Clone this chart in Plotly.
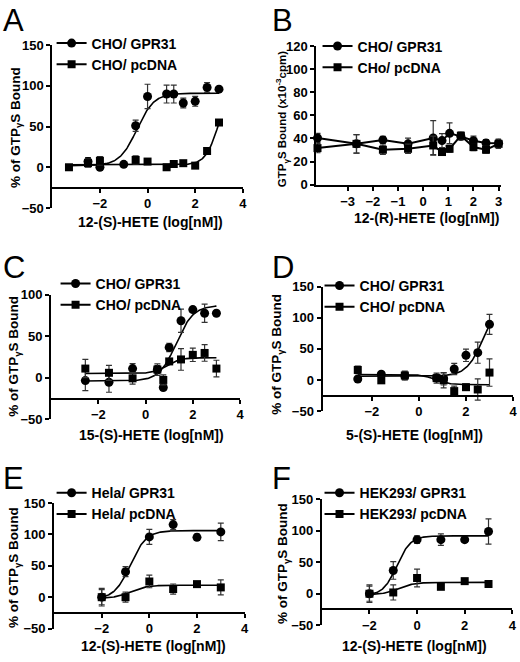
import numpy as np
import plotly.graph_objects as go

# ---------------- data (x = log[nM], y = % of GTPgammaS bound) ----------------
# Panel A: 12-(S)-HETE on CHO cells
a_gpr_x = [-2.5, -2.0, -1.0, -0.5, 0.0, 0.8, 1.1, 1.5, 2.0, 2.5, 3.0]
a_gpr_y = [7, 0, 3.6, 51, 87, 90, 90, 79, 81, 98, 96]
a_gpr_err = [5, 3, 2, 7, 15, 11, 11, 6, 6, 6, 2]
a_pc_x = [-3.3, -2.5, -2.0, -0.5, 0.0, 0.8, 1.1, 1.5, 2.0, 2.5, 3.0]
a_pc_y = [0, 5, 8, 9, 7, 0, 4, 5, 2, 20, 55]
a_pc_err = [2, 5, 5, 5, 2, 2, 4, 2, 2, 2, 2]
a_gpr_fit = [2, 91, -0.45, 1.2]      # bottom, top, logEC50, hill
a_pc_fit = [3, 100, 2.97, 1.6]
a_fit_span = [-3.3, 3.0]

# Panel B: 12-(R)-HETE on CHO cells (x10^-3 cpm)
b_x = [-4.2, -2.65, -1.6, -0.6, 0.4, 0.75, 1.05, 1.5, 2.0, 2.5, 3.0]
b_gpr_y = [40.4, 35.3, 38.7, 35.3, 40.4, 38.1, 44.4, 41.8, 38, 36, 35.9]
b_gpr_err = [4, 8, 3, 5, 15, 6, 9, 3, 4, 3, 3]
b_pc_y = [31.6, 35.3, 30.2, 31, 33.9, 28.2, 31, 42.4, 32.5, 30.2, 35.3]
b_pc_err = [4, 8, 4, 4, 8, 3, 3, 3, 3, 3, 4]

# Panel C: 15-(S)-HETE on CHO cells
c_x = [-2.55, -1.55, -0.55, 0.5, 0.75, 1.0, 1.5, 2.0, 2.5, 3.0]
c_gpr_y = [-3.5, -5.5, 11, 9.8, -11.8, 36.5, 68.6, 82, 77.6, 77.6]
c_gpr_err = [12, 12, 6, 5, 3, 5, 14, 3, 11, 2]
c_pc_y = [11, 5.9, -0.8, 9.8, -2.7, 19.6, 22, 27.5, 29.8, 11]
c_pc_err = [11, 9, 7, 7, 6, 3, 13, 8, 10, 10]
c_gpr_fit = [-4, 87, 1.3, 1.2]
c_pc_fit = [5, 24, 0.9, 1.5]
c_fit_span = [-2.55, 3.0]

# Panel D: 5-(S)-HETE on CHO cells
d_x = [-2.6, -1.6, -0.6, 0.75, 1.05, 1.5, 2.0, 2.5, 3.0]
d_gpr_y = [1.6, 9.4, 6.8, 3.1, 2, 17.8, 39.8, 44, 89.5]
d_gpr_err = [3, 3, 6, 8, 10, 9, 10, 17, 16]
d_pc_y = [16.2, -0.5, 7.3, 3.1, -0.5, -17.8, -11.5, -15.2, 12]
d_pc_err = [6, 5, 7, 5, 12, 8, 5, 17, 22]
d_gpr_fit = [6, 130, 2.75, 1.2]
d_pc_fit = [-7.5, 9, 0.7, -1.5]
d_fit_span = [-2.6, 3.0]

# Panel E: 12-(S)-HETE on Hela cells
e_x = [-2, -1, 0, 1, 2, 3]
e_gpr_y = [0, 40.6, 96, 115.6, 95.3, 104]
e_gpr_err = [14, 8, 12, 8, 5, 14]
e_pc_y = [0, 0, 25, 13, 20.8, 15.6]
e_pc_err = [12, 8, 10, 8, 4, 12]
e_gpr_fit = [-3, 106, -0.8, 1.3]
e_pc_fit = [-2, 19, -0.8, 1.3]
e_fit_span = [-2.0, 3.0]

# Panel F: 12-(S)-HETE on HEK293 cells
f_x = [-2, -1, 0, 1, 2, 3]
f_gpr_y = [0, 37, 86, 86, 86, 99]
f_gpr_err = [14, 14, 6, 9, 4, 20]
f_pc_y = [0, 2, 25, 11, 20, 15.5]
f_pc_err = [12, 12, 14, 4, 3, 3]
f_gpr_fit = [-3, 92, -0.85, 1.5]
f_pc_fit = [-2, 18, -0.8, 1.3]
f_fit_span = [-2.0, 3.0]

# text
letters = ["A", "B", "C", "D", "E", "F"]
legend_names = [
    ["CHO/ GPR31", "CHO/ pcDNA"],
    ["CHO/ GPR31", "CHo/ pcDNA"],
    ["CHO/ GPR31", "CHO/ pcDNA"],
    ["CHO/ GPR31", "CHO/ pcDNA"],
    ["Hela/ GPR31", "Hela/ pcDNA"],
    ["HEK293/ GPR31", "HEK293/ pcDNA"],
]
x_titles = ["12-(S)-HETE (log[nM])", "12-(R)-HETE (log[nM])", "15-(S)-HETE (log[nM])",
            "5-(S)-HETE (log[nM])", "12-(S)-HETE (log[nM])", "12-(S)-HETE (log[nM])"]
y_title_pct = "% of GTP<sub>γ</sub>S Bound"
y_title_cpm = "GTP<sub>γ</sub>S Bound (x10<sup>-3</sup>cpm)"

# ---------------- layout helpers ----------------
W, H = 520, 662
FONT = "Liberation Sans, Arial, Helvetica, sans-serif"


def fx(px):
    return px / W


def fy(py):
    return 1 - py / H


def logistic(xs, p):
    bottom, top, logec50, hill = p
    xs = np.asarray(xs, dtype=float)
    return bottom + (top - bottom) / (1 + 10 ** ((logec50 - xs) * hill))


fig = go.Figure()

ERR = dict(type="data", visible=True, color="#333333", thickness=1.2, width=3)
CIRCLE = dict(symbol="circle", size=9, color="black")
SQUARE = dict(symbol="square", size=8, color="black")


def axes_of(i):
    return ("x" if i == 1 else f"x{i}"), ("y" if i == 1 else f"y{i}")


def add_series(i, x, y, err, marker, connect=False):
    xa, ya = axes_of(i)
    fig.add_trace(go.Scatter(
        x=x, y=y, xaxis=xa, yaxis=ya,
        mode="lines+markers" if connect else "markers",
        line=dict(color="black", width=2),
        marker=marker,
        error_y=dict(array=err, **ERR),
        cliponaxis=False, showlegend=False, hoverinfo="skip"))


def add_fit(i, span, params):
    xa, ya = axes_of(i)
    xs = np.linspace(span[0], span[1], 200)
    fig.add_trace(go.Scatter(
        x=xs, y=logistic(xs, params), xaxis=xa, yaxis=ya, mode="lines",
        line=dict(color="black", width=1.6),
        cliponaxis=False, showlegend=False, hoverinfo="skip"))


def add_legend_items(i, names):
    xa, ya = axes_of(i)
    leg = "legend" if i == 1 else f"legend{i}"
    for name, mk in zip(names, [CIRCLE, SQUARE]):
        fig.add_trace(go.Scatter(
            x=[None], y=[None], xaxis=xa, yaxis=ya, name=name,
            mode="lines+markers", line=dict(color="black", width=2),
            marker=mk, legend=leg, showlegend=True))


# Panel A
add_fit(1, a_fit_span, a_gpr_fit)
add_fit(1, a_fit_span, a_pc_fit)
add_series(1, a_gpr_x, a_gpr_y, a_gpr_err, CIRCLE)
add_series(1, a_pc_x, a_pc_y, a_pc_err, SQUARE)
# Panel B
add_series(2, b_x, b_gpr_y, b_gpr_err, CIRCLE, connect=True)
add_series(2, b_x, b_pc_y, b_pc_err, SQUARE, connect=True)
# Panel C
add_fit(3, c_fit_span, c_gpr_fit)
add_fit(3, c_fit_span, c_pc_fit)
add_series(3, c_x, c_gpr_y, c_gpr_err, CIRCLE)
add_series(3, c_x, c_pc_y, c_pc_err, SQUARE)
# Panel D
add_fit(4, d_fit_span, d_gpr_fit)
add_fit(4, d_fit_span, d_pc_fit)
add_series(4, d_x, d_gpr_y, d_gpr_err, CIRCLE)
add_series(4, d_x, d_pc_y, d_pc_err, SQUARE)
# Panel E
add_fit(5, e_fit_span, e_gpr_fit)
add_fit(5, e_fit_span, e_pc_fit)
add_series(5, e_x, e_gpr_y, e_gpr_err, CIRCLE)
add_series(5, e_x, e_pc_y, e_pc_err, SQUARE)
# Panel F
add_fit(6, f_fit_span, f_gpr_fit)
add_fit(6, f_fit_span, f_pc_fit)
add_series(6, f_x, f_gpr_y, f_gpr_err, CIRCLE)
add_series(6, f_x, f_pc_y, f_pc_err, SQUARE)

for i in range(1, 7):
    add_legend_items(i, legend_names[i - 1])

# panel geometry in pixels: x-domain, y-domain (top, bottom), ranges, x-axis crossing
geom = [
    dict(xd=(52.7, 244.7), yd=(39.1, 205.6), xr=[-4, 4], yr=[-50, 150], cross=184.8,
         yt=[-50, 0, 50, 100, 150], xt=[-2, 0, 2, 4]),
    dict(xd=(318.7, 505.0), yd=(40.0, 181.7), xr=[-4.25, 3.1], yr=[0, 120], cross=None,
         yt=[0, 20, 40, 60, 80, 100, 120], xt=[-3, -2, -1, 0, 1, 2, 3]),
    dict(xd=(51.5, 241.9), yd=(294.3, 421.8), xr=[-4, 4], yr=[-50, 100], cross=400.6,
         yt=[-50, 0, 50, 100], xt=[-2, 0, 2, 4]),
    dict(xd=(325.0, 517.0), yd=(286.2, 413.5), xr=[-4.1, 4], yr=[-50, 150], cross=397.6,
         yt=[-50, 0, 50, 100, 150], xt=[-2, 0, 2, 4]),
    dict(xd=(54.5, 246.5), yd=(507.5, 636.0), xr=[-4, 4], yr=[-50, 150], cross=619.9,
         yt=[-50, 0, 50, 100, 150], xt=[-2, 0, 2, 4]),
    dict(xd=(324.3, 516.3), yd=(503.8, 632.5), xr=[-4, 4], yr=[-50, 150], cross=616.4,
         yt=[-50, 0, 50, 100, 150], xt=[-2, 0, 2, 4]),
]

tickfont = dict(size=13, family=FONT, color="black", weight="bold")
axis_common = dict(showline=True, linewidth=2, linecolor="black", ticks="outside",
                   ticklen=4, tickwidth=2, tickcolor="black", showgrid=False,
                   zeroline=False, tickfont=tickfont)

layout = dict(width=W, height=H, margin=dict(l=0, r=0, t=0, b=0),
              paper_bgcolor="white", plot_bgcolor="white",
              font=dict(family=FONT, color="black"))

for i, g in enumerate(geom, start=1):
    xk = "xaxis" if i == 1 else f"xaxis{i}"
    yk = "yaxis" if i == 1 else f"yaxis{i}"
    xa, ya = axes_of(i)
    xd = [fx(g["xd"][0]), fx(g["xd"][1])]
    ydm = [fy(g["yd"][1]), fy(g["yd"][0])]
    xax = dict(domain=xd, range=g["xr"], tickvals=g["xt"], **axis_common)
    if g["cross"] is None:
        xax["anchor"] = ya
    else:
        xax["anchor"] = "free"
        xax["position"] = fy(g["cross"])
    layout[xk] = xax
    layout[yk] = dict(domain=ydm, range=g["yr"], tickvals=g["yt"], anchor=xa, **axis_common)

# legends (pixel positions of the top-left corner)
legend_pos = [(52, 21), (320, 24), (56, 267), (322, 269), (52, 481), (322, 481)]
for i, (lx, ly) in enumerate(legend_pos, start=1):
    key = "legend" if i == 1 else f"legend{i}"
    layout[key] = dict(x=fx(lx), y=fy(ly), xanchor="left", yanchor="top",
                       bgcolor="rgba(0,0,0,0)", borderwidth=0, itemwidth=30,
                       tracegroupgap=0,
                       font=dict(size=14, family=FONT, color="black", weight="bold"))

annotations = []
# panel letters (cap centre positions)
letter_pos = [(1, 14), (272, 14), (1, 267), (272, 267), (1, 482.5), (272, 482.5)]
for t, (lx, ly) in zip(letters, letter_pos):
    annotations.append(dict(text=t, x=fx(lx), y=fy(ly), xref="paper", yref="paper",
                            xanchor="left", yanchor="middle", showarrow=False,
                            font=dict(size=31, family=FONT, color="black")))
# x-axis titles
xt_pos = [(152, 220), (430, 216), (153, 438), (418, 438), (155, 654), (418, 654)]
for t, (cx, cy) in zip(x_titles, xt_pos):
    annotations.append(dict(text=t, x=fx(cx), y=fy(cy), xref="paper", yref="paper",
                            xanchor="center", yanchor="middle", showarrow=False,
                            font=dict(size=14, family=FONT, color="black", weight="bold")))
# y-axis titles
yt_pos = [(16, 123, y_title_pct, 13.5), (285, 115, y_title_cpm, 11.5),
          (15, 357, y_title_pct, 13.5), (280, 355, y_title_pct, 13.5),
          (14, 573, y_title_pct, 13.5), (285, 569, y_title_pct, 13.5)]
for cx, cy, t, fs in yt_pos:
    annotations.append(dict(text=t, x=fx(cx), y=fy(cy), xref="paper", yref="paper",
                            xanchor="center", yanchor="middle", textangle=-90,
                            showarrow=False,
                            font=dict(size=fs, family=FONT, color="black", weight="bold")))
layout["annotations"] = annotations

fig.update_layout(**layout)
fig.write_html(
    "out.html",
    config={"displayModeBar": False},
    post_script="document.body.style.margin='0';document.body.style.padding='0';"
                "document.body.style.overflow='hidden';",
)
